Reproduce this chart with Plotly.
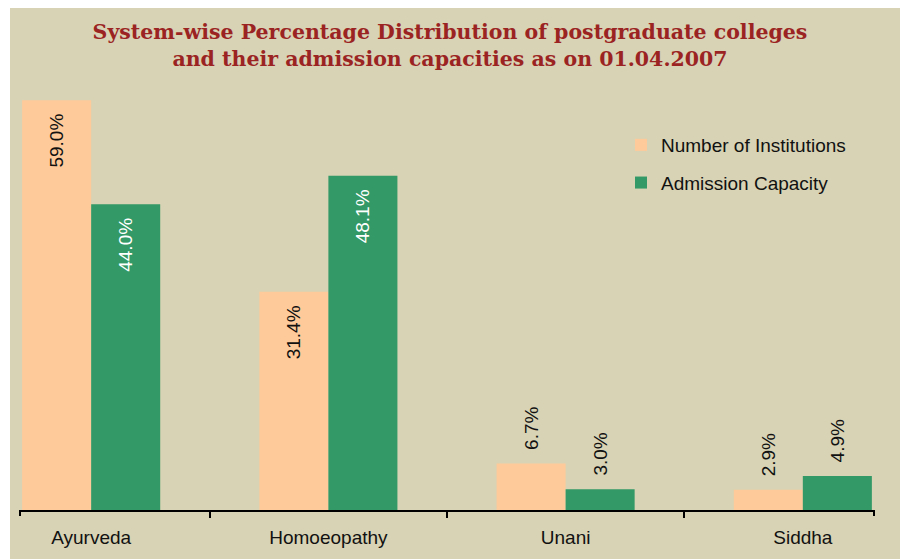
import plotly.graph_objects as go

categories = ["Ayurveda", "Homoeopathy", "Unani", "Siddha"]
institutions = [59.0, 31.4, 6.7, 2.9]
admission = [44.0, 48.1, 3.0, 4.9]
series_names = ["Number of Institutions", "Admission Capacity"]

PEACH = "#FFCA99"
GREEN = "#339966"
BEIGE = "#D8D3B4"
FONT = "Liberation Sans, Arial, sans-serif"

W, H = 900, 559
L, R, T, B = 20, 26, 80, 49
PW, PH = W - L - R, H - T - B
SP = "\u00a0"

def px_x(px):
    return (px - L) / PW

def px_y(py):
    return (H - B - py) / PH

def labels(values):
    # inside labels for tall bars (anchored at bar top), outside for short
    pos = ["inside" if v > 10 else "outside" for v in values]
    txt = [(f"{v:.1f}%" + SP * 2) if v > 10 else (SP * 2 + f"{v:.1f}%") for v in values]
    return txt, pos

t1, p1 = labels(institutions)
t2, p2 = labels(admission)

fig = go.Figure()
fig.add_trace(go.Bar(
    x=categories, y=institutions, name=series_names[0],
    marker=dict(color=PEACH, line=dict(width=0)),
    text=t1, textposition=p1, textangle=-90,
    insidetextanchor="end",
    insidetextfont=dict(color="#111111", size=19, family=FONT),
    outsidetextfont=dict(color="#111111", size=19, family=FONT),
    legendgroup="a", cliponaxis=False,
))
fig.add_trace(go.Bar(
    x=categories, y=admission, name=series_names[1],
    marker=dict(color=GREEN, line=dict(width=0)),
    text=t2, textposition=p2, textangle=-90,
    insidetextanchor="end",
    insidetextfont=dict(color="#ffffff", size=19, family=FONT),
    outsidetextfont=dict(color="#111111", size=19, family=FONT),
    legendgroup="b", cliponaxis=False,
))

shapes = [
    dict(type="rect", xref="paper", yref="paper", layer="below",
         x0=px_x(10), x1=px_x(905), y0=px_y(565), y1=px_y(8),
         fillcolor=BEIGE, line=dict(width=0)),
    dict(type="line", xref="paper", yref="paper",
         x0=0, x1=0, y0=0, y1=px_y(516), line=dict(color="black", width=2)),
    dict(type="line", xref="paper", yref="paper",
         x0=1, x1=1, y0=0, y1=px_y(516), line=dict(color="black", width=2)),
]

fig.update_layout(
    width=W, height=H,
    margin=dict(l=L, r=R, t=T, b=B, pad=0),
    paper_bgcolor="white", plot_bgcolor="rgba(0,0,0,0)",
    barmode="group", bargap=0.418, bargroupgap=0,
    showlegend=True,
    hovermode=False,
    title=dict(
        text="System-wise Percentage Distribution of postgraduate colleges<br>and their admission capacities as on 01.04.2007",
        x=0.5, xref="container", xanchor="center",
        y=1 - 39 / H, yref="container", yanchor="top",
        font=dict(family="DejaVu Serif, serif", size=20.5, color="#9B2423", weight="bold"),
    ),
    legend=dict(
        x=px_x(621), y=px_y(126), xanchor="left", yanchor="top",
        bgcolor="rgba(0,0,0,0)", font=dict(family=FONT, size=19, color="#111111"),
        tracegroupgap=10, traceorder="grouped",
    ),
    xaxis=dict(
        type="category", range=[-0.3, 3.3],
        showline=True, linecolor="black", linewidth=2,
        ticks="outside", tickson="boundaries", ticklen=6, tickwidth=2, tickcolor="black",
        ticklabelstandoff=9,
        showgrid=False, zeroline=False,
        tickfont=dict(family=FONT, size=19, color="#111111"),
    ),
    yaxis=dict(
        range=[0, 61.9], visible=False, showgrid=False, zeroline=False,
    ),
    shapes=shapes,
    font=dict(family=FONT),
)

fig.write_html(
    "out.html",
    config={"displayModeBar": False, "staticPlot": False},
    post_script="document.body.style.margin='0';document.body.style.overflow='hidden';",
)
